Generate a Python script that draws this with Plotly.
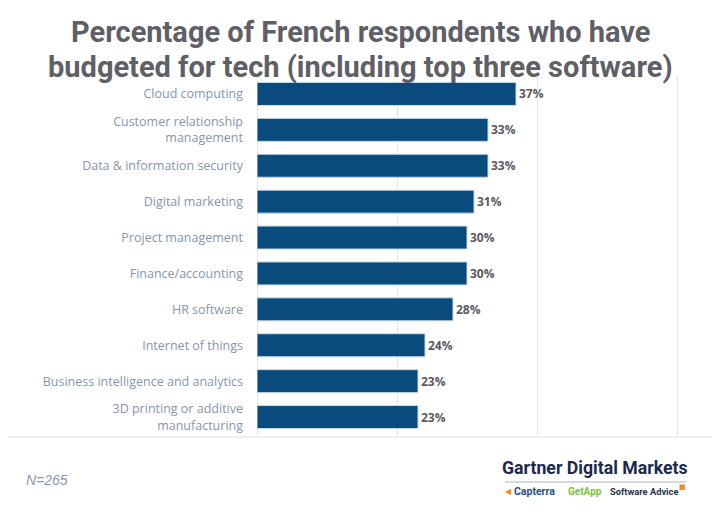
import plotly.graph_objects as go

categories = [
    "Cloud computing",
    "Customer relationship<br>management",
    "Data & information security",
    "Digital marketing",
    "Project management",
    "Finance/accounting",
    "HR software",
    "Internet of things",
    "Business intelligence and analytics",
    "3D printing or additive<br>manufacturing",
]
values = [37, 33, 33, 31, 30, 30, 28, 24, 23, 23]
value_labels = [f"{v}%" for v in values]

title_lines = ["Percentage of French respondents who have",
               "budgeted for tech (including top three software)"]
note_text = "N=265"

# page offset (browser body margin) compensation
OFF = 8
W, H = 720, 512
PL, PR, PT, PB = 257, 684, 76, 435  # plot area in page pixels

fig = go.Figure()
fig.add_trace(go.Bar(
    x=values,
    y=categories,
    orientation="h",
    marker=dict(color="#0a4b7d", line=dict(color="#c8d8e8", width=1)),
    text=value_labels,
    textposition="outside",
    cliponaxis=False,
    textfont=dict(family="Open Sans", size=12, color="#5a5a5f", weight="bold"),
    hoverinfo="skip",
))

fig.update_layout(
    width=W - OFF, height=H - OFF,
    margin=dict(l=PL - OFF, r=W - PR, t=PT - OFF, b=H - PB, autoexpand=False),
    paper_bgcolor="white", plot_bgcolor="white",
    showlegend=False,
    bargap=0.36,
    xaxis=dict(
        range=[0, 61], tickvals=[0, 20, 40, 60], showticklabels=False,
        showgrid=True, gridcolor="#e6e6e6", gridwidth=1,
        zeroline=True, zerolinecolor="#e6e6e6", zerolinewidth=1,
        fixedrange=True,
    ),
    yaxis=dict(
        autorange="reversed",
        tickfont=dict(family="Open Sans", size=12.5, color="#8796a8"),
        ticklabelstandoff=13,
        showgrid=False, zeroline=False, showline=False,
    ),
)

PW, PH = PR - PL, PB - PT

def px(x):
    return (x - PL) / PW

def py(y):
    return (PB - y) / PH

# title (two lines)
for txt, yc in zip(title_lines, [32, 67]):
    fig.add_annotation(text=txt, xref="paper", yref="paper",
                       x=px(360), y=py(yc), xanchor="center", yanchor="middle",
                       showarrow=False,
                       font=dict(family="Roboto", size=29, color="#5f6066", weight="bold"))

# bottom separator
fig.add_shape(type="line", xref="paper", yref="paper",
              x0=px(OFF), x1=px(717), y0=py(437), y1=py(437),
              line=dict(color="#dcdcdc", width=1))

# note
fig.add_annotation(text=note_text, xref="paper", yref="paper",
                   x=px(24), y=py(480), xanchor="left", yanchor="middle",
                   showarrow=False,
                   font=dict(family="Liberation Sans", size=14, color="#8a96a8", style="italic"))

# logo block
fig.add_annotation(text="<b>Gartner Digital Markets</b>", xref="paper", yref="paper",
                   x=px(595), y=py(468), xanchor="center", yanchor="middle", showarrow=False,
                   font=dict(family="Roboto", size=17.7, color="#1d2a4e"))
fig.add_shape(type="line", xref="paper", yref="paper",
              x0=px(505), x1=px(686), y0=py(482), y1=py(482),
              line=dict(color="#a9b3c4", width=1))
fig.add_annotation(text="<b>◀</b>", xref="paper", yref="paper",
                   x=px(508), y=py(491), xanchor="center", yanchor="middle", showarrow=False,
                   font=dict(family="DejaVu Sans", size=8, color="#f08a24"))
fig.add_annotation(text="<b>Capterra</b>", xref="paper", yref="paper",
                   x=px(512), y=py(491), xanchor="left", yanchor="middle", showarrow=False,
                   font=dict(family="Roboto", size=10.5, color="#1f4e8c"))
fig.add_annotation(text="<b>GetApp</b>", xref="paper", yref="paper",
                   x=px(566), y=py(491), xanchor="left", yanchor="middle", showarrow=False,
                   font=dict(family="Roboto", size=10, color="#7cc142"))
fig.add_annotation(text="<b>Software Advice</b>", xref="paper", yref="paper",
                   x=px(608), y=py(491), xanchor="left", yanchor="middle", showarrow=False,
                   font=dict(family="Roboto", size=9.3, color="#24324f"))
fig.add_annotation(text="■", xref="paper", yref="paper",
                   x=px(682), y=py(487), xanchor="center", yanchor="middle", showarrow=False,
                   font=dict(family="DejaVu Sans", size=7, color="#f08a24"))

fig.write_html("out.html")
